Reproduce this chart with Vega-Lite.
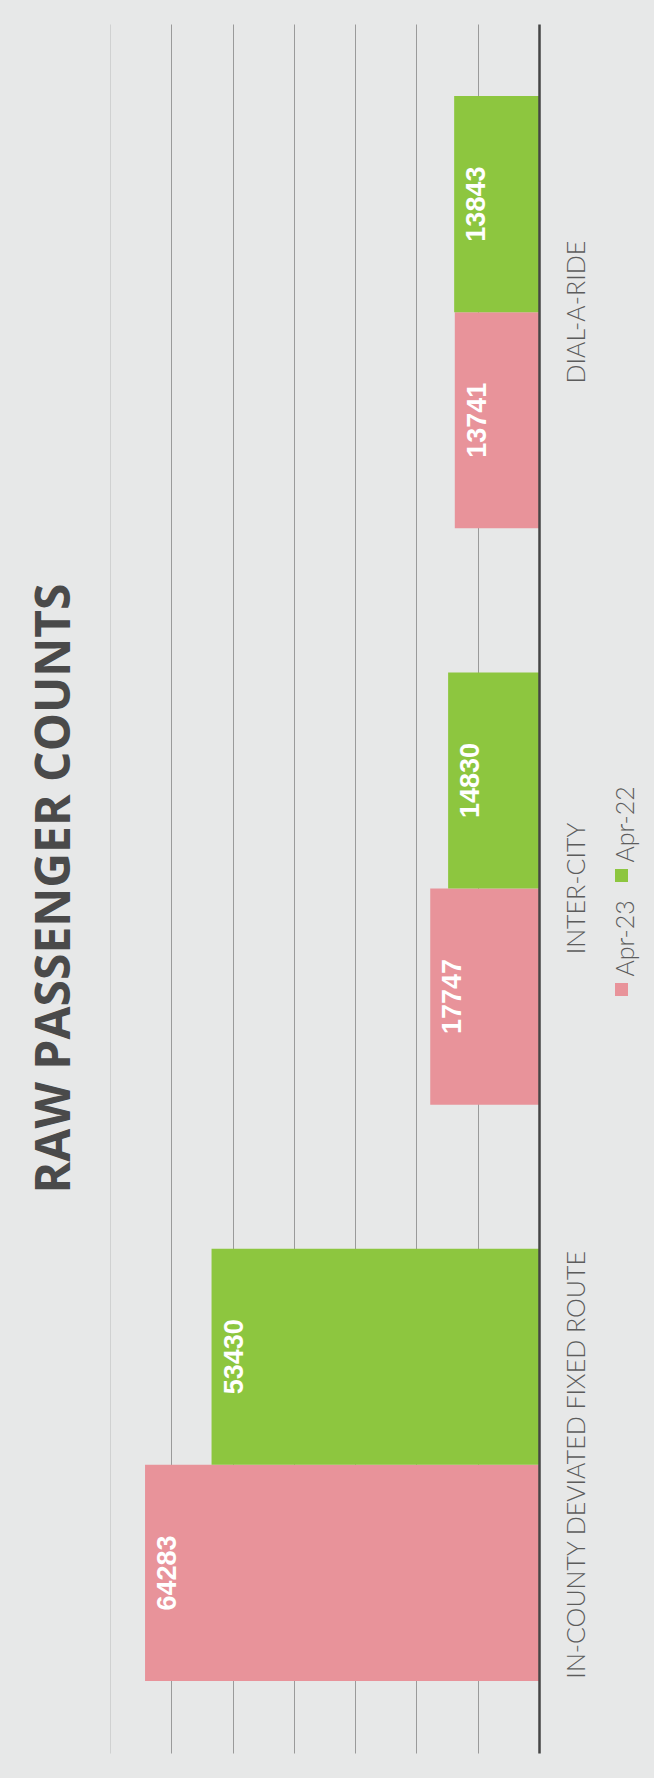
{
  "$schema": "https://vega.github.io/schema/vega-lite/v6.json",
  "width": 429,
  "height": 1729,
  "autosize": {"type": "none"},
  "padding": {"left": 110, "top": 24, "right": 115, "bottom": 25},
  "background": "#e7e8e8",
  "title": {
    "text": "RAW PASSENGER COUNTS",
    "orient": "left",
    "anchor": "middle",
    "font": "Open Sans",
    "fontSize": 48,
    "fontWeight": "bold",
    "color": "#4a4a4a",
    "offset": 30
  },
  "data": {
    "values": [
      {"route": "IN-COUNTY DEVIATED FIXED ROUTE", "month": "Apr-23", "count": 64283},
      {"route": "IN-COUNTY DEVIATED FIXED ROUTE", "month": "Apr-22", "count": 53430},
      {"route": "INTER-CITY", "month": "Apr-23", "count": 17747},
      {"route": "INTER-CITY", "month": "Apr-22", "count": 14830},
      {"route": "DIAL-A-RIDE", "month": "Apr-23", "count": 13741},
      {"route": "DIAL-A-RIDE", "month": "Apr-22", "count": 13843}
    ]
  },
  "encoding": {
    "y": {
      "field": "route",
      "type": "nominal",
      "sort": ["DIAL-A-RIDE", "INTER-CITY", "IN-COUNTY DEVIATED FIXED ROUTE"],
      "scale": {"paddingInner": 0.25, "paddingOuter": 0.125},
      "axis": {
        "orient": "right",
        "title": null,
        "labelAngle": 270,
        "labelAlign": "center",
        "labelBaseline": "top",
        "labelPadding": 25,
        "labelLimit": 1000,
        "ticks": false,
        "domain": true,
        "domainColor": "#454545",
        "domainWidth": 2.5,
        "grid": false,
        "labelFont": "Lato",
        "labelFontWeight": 300,
        "labelFontSize": 25,
        "labelColor": "#5c5c5c",
        "zindex": 1
      }
    },
    "yOffset": {
      "field": "month",
      "type": "nominal",
      "sort": ["Apr-22", "Apr-23"],
      "scale": {"paddingInner": 0, "paddingOuter": 0}
    },
    "x": {
      "field": "count",
      "type": "quantitative",
      "scale": {"domain": [0, 70000], "reverse": true, "nice": false},
      "axis": {
        "title": null,
        "labels": false,
        "ticks": false,
        "domain": false,
        "grid": true,
        "values": [10000, 20000, 30000, 40000, 50000, 60000, 70000],
        "gridColor": "#9a9a9a",
        "gridWidth": 1,
        "gridOpacity": {"condition": {"test": "datum.value === 70000", "value": 0.3}, "value": 1}
      }
    }
  },
  "layer": [
    {
      "mark": {"type": "bar"},
      "encoding": {
        "color": {
          "field": "month",
          "type": "nominal",
          "scale": {"domain": ["Apr-22", "Apr-23"], "range": ["#8dc63f", "#e8939a"]},
          "legend": {
            "orient": "none",
            "legendX": 499,
            "legendY": 839,
            "direction": "vertical",
            "title": null,
            "symbolType": "square",
            "symbolSize": 169,
            "symbolStrokeWidth": 0,
            "labelFont": "Lato",
            "labelFontWeight": 300,
            "labelFontSize": 25,
            "labelColor": "#5c5c5c",
            "labelOffset": 0,
            "rowPadding": 18,
            "encode": {
              "labels": {
                "update": {
                  "angle": {"value": 270},
                  "align": {"value": "left"},
                  "baseline": {"value": "middle"},
                  "dx": {"value": 13},
                  "dy": {"value": -8}
                }
              }
            }
          }
        }
      }
    },
    {
      "mark": {
        "type": "text",
        "angle": 270,
        "align": "center",
        "baseline": "middle",
        "dy": 23,
        "font": "Liberation Sans",
        "fontWeight": "bold",
        "fontSize": 27,
        "color": "#ffffff"
      },
      "encoding": {
        "text": {"field": "count", "type": "quantitative", "format": "d"}
      }
    }
  ],
  "config": {"view": {"stroke": null}}
}
